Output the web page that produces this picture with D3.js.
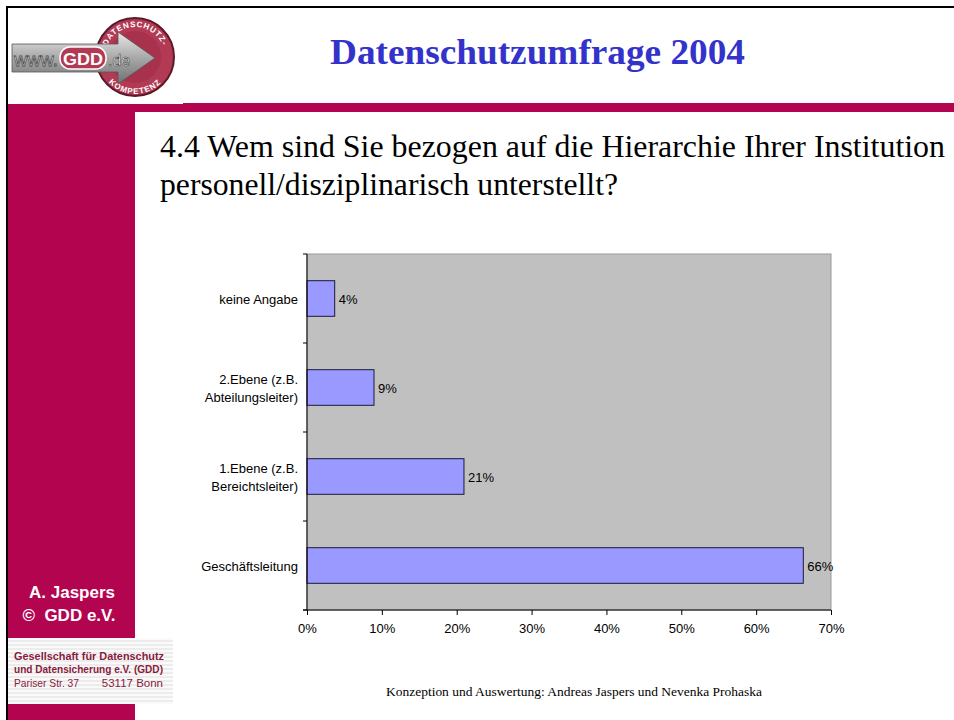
<!DOCTYPE html>
<html><head><meta charset="utf-8">
<script src="https://cdn.jsdelivr.net/npm/d3@7/dist/d3.min.js"></script>
<style>
html,body{margin:0;padding:0;background:#fff;}
svg{display:block;}
</style></head>
<body>
<svg id="chart" width="954" height="720"></svg>
<script>
const categories = ["keine Angabe", "2.Ebene (z.B.|Abteilungsleiter)", "1.Ebene (z.B.|Bereichtsleiter)", "Geschäftsleitung"];
const values = [0.037, 0.0895, 0.2097, 0.663];
const valueLabels = ["4%", "9%", "21%", "66%"];
const ticks = [0, 0.1, 0.2, 0.3, 0.4, 0.5, 0.6, 0.7];

const svg = d3.select("#chart");
const MAG = "#B2044F";
const SERIF = "'Liberation Serif', 'Times New Roman', serif";
const SANS = "'Liberation Sans', Arial, sans-serif";
const NARROW = "'Liberation Sans Narrow', 'Arial Narrow', 'Liberation Sans', sans-serif";

// slide frame
svg.append("rect").attr("x",0).attr("y",0).attr("width",954).attr("height",720).attr("fill","#fff");
svg.append("line").attr("x1",6).attr("x2",954).attr("y1",7).attr("y2",7).attr("stroke","#000").attr("stroke-width",2);
svg.append("line").attr("x1",7).attr("x2",7).attr("y1",6).attr("y2",720).attr("stroke","#000").attr("stroke-width",2);

// header band and sidebar
svg.append("rect").attr("x",8).attr("y",104).attr("width",175).attr("height",8).attr("fill",MAG);
svg.append("rect").attr("x",183).attr("y",103).attr("width",771).attr("height",9).attr("fill",MAG);
svg.append("rect").attr("x",8).attr("y",104).attr("width",127).attr("height",616).attr("fill",MAG);

// GDD address panel
const panel = svg.append("g");
panel.append("rect").attr("x",8).attr("y",638).attr("width",165).attr("height",66).attr("fill","#fafafa");
for (let y = 640; y < 704; y += 4) {
  panel.append("rect").attr("x",8).attr("y",y).attr("width",165).attr("height",2).attr("fill","#ececec");
}
panel.append("text").attr("x",14).attr("y",660).attr("font-family",NARROW)
  .attr("font-size",11.5).attr("font-weight","bold").attr("fill","#8a1a3c").attr("textLength",150).attr("lengthAdjust","spacingAndGlyphs").text("Gesellschaft für Datenschutz");
panel.append("text").attr("x",14).attr("y",673).attr("font-family",NARROW)
  .attr("font-size",11.5).attr("font-weight","bold").attr("fill","#8a1a3c").attr("textLength",149).attr("lengthAdjust","spacingAndGlyphs").text("und Datensicherung e.V. (GDD)");
panel.append("text").attr("x",14).attr("y",687).attr("font-family",NARROW)
  .attr("font-size",11.5).attr("fill","#8a1a3c").attr("textLength",65).attr("lengthAdjust","spacingAndGlyphs").text("Pariser Str. 37");
panel.append("text").attr("x",163).attr("y",687).attr("text-anchor","end").attr("font-family",NARROW)
  .attr("font-size",11.5).attr("fill","#8a1a3c").text("53117 Bonn");

// sidebar author
svg.append("text").attr("x",72).attr("y",598).attr("text-anchor","middle").attr("font-family",SANS)
  .attr("font-size",17).attr("font-weight","bold").attr("fill","#fff").text("A. Jaspers");
svg.append("text").attr("x",69).attr("y",621).attr("text-anchor","middle").attr("font-family",SANS)
  .attr("font-size",17).attr("font-weight","bold").attr("fill","#fff").attr("xml:space","preserve").text("©  GDD e.V.");

// logo
const logo = svg.append("g");
const defs = svg.append("defs");
const grad = defs.append("linearGradient").attr("id","arrowGrad").attr("x1",0).attr("y1",0).attr("x2",0).attr("y2",1);
grad.append("stop").attr("offset","0%").attr("stop-color","#e8e8e8");
grad.append("stop").attr("offset","50%").attr("stop-color","#a8a8a8");
grad.append("stop").attr("offset","100%").attr("stop-color","#707070");
logo.append("circle").attr("cx",135).attr("cy",57).attr("r",39).attr("fill","#B23A55").attr("stroke","#5a1a28").attr("stroke-width",2);
logo.append("circle").attr("cx",135).attr("cy",57).attr("r",26).attr("fill","#A8324D");
defs.append("path").attr("id","arcTop").attr("d","M 105 57 A 30 30 0 0 1 165 57");
defs.append("path").attr("id","arcBot").attr("d","M 99 58 A 36 36 0 0 0 171 58");
logo.append("text").attr("font-family",SANS).attr("font-size",8).attr("font-weight","bold").attr("fill","#fff").attr("letter-spacing",0.8)
  .append("textPath").attr("href","#arcTop").attr("startOffset","50%").attr("text-anchor","middle").text("DATENSCHUTZ-");
logo.append("text").attr("font-family",SANS).attr("font-size",8).attr("font-weight","bold").attr("fill","#fff").attr("letter-spacing",1)
  .append("textPath").attr("href","#arcBot").attr("startOffset","50%").attr("text-anchor","middle").text("KOMPETENZ");
logo.append("path").attr("d","M 12 44 L 118 44 L 118 32 L 155 58 L 118 84 L 118 72 L 12 72 Z")
  .attr("fill","url(#arrowGrad)").attr("stroke","#555").attr("stroke-width",0.8);
logo.append("text").attr("x",14).attr("y",66).attr("font-family",NARROW).attr("font-size",19)
  .attr("fill","#fff").attr("stroke","#444").attr("stroke-width",0.8).attr("textLength",44).attr("lengthAdjust","spacingAndGlyphs").text("www.");
logo.append("rect").attr("x",60).attr("y",47).attr("width",46).attr("height",22).attr("rx",10).attr("fill","#B23A55").attr("stroke","#fff").attr("stroke-width",1.5);
logo.append("text").attr("x",83).attr("y",65).attr("text-anchor","middle").attr("font-family",SANS).attr("font-size",17).attr("font-weight","bold")
  .attr("fill","#fff").attr("textLength",40).attr("lengthAdjust","spacingAndGlyphs").text("GDD");
logo.append("text").attr("x",108).attr("y",66).attr("font-family",SANS).attr("font-size",16)
  .attr("fill","#fff").attr("stroke","#444").attr("stroke-width",0.6).text(".de");

// title
svg.append("text").attr("x",330).attr("y",64).attr("font-family",SERIF)
  .attr("font-size",36).attr("font-weight","bold").attr("fill","#3333CC")
  .attr("textLength",415).attr("lengthAdjust","spacingAndGlyphs").text("Datenschutzumfrage 2004");

// question
svg.append("text").attr("x",160).attr("y",157).attr("font-family",SERIF)
  .attr("font-size",31).attr("fill","#000").attr("textLength",785).attr("lengthAdjust","spacingAndGlyphs")
  .text("4.4 Wem sind Sie bezogen auf die Hierarchie Ihrer Institution");
svg.append("text").attr("x",160).attr("y",195).attr("font-family",SERIF)
  .attr("font-size",31).attr("fill","#000").attr("textLength",458).attr("lengthAdjust","spacingAndGlyphs")
  .text("personell/disziplinarisch unterstellt?");

// chart
const plot = {left:307, right:831, top:254, bottom:610};
const x = d3.scaleLinear().domain([0,0.7]).range([plot.left, plot.right]);
const y = d3.scaleBand().domain(categories).range([plot.top, plot.bottom]).paddingInner(0.6).paddingOuter(0.3);

svg.append("rect").attr("x",plot.left).attr("y",plot.top).attr("width",plot.right-plot.left).attr("height",plot.bottom-plot.top)
  .attr("fill","#C0C0C0").attr("stroke","#999").attr("stroke-width",1);

svg.append("g").selectAll("rect").data(categories).join("rect")
  .attr("x", x(0)).attr("y", d => y(d)).attr("width", (d,i) => x(values[i]) - x(0)).attr("height", y.bandwidth())
  .attr("fill","#9999FF").attr("stroke","#1a1a3a").attr("stroke-width",1);

svg.append("g").selectAll("text").data(categories).join("text")
  .attr("x", (d,i) => x(values[i]) + 4).attr("y", d => y(d) + y.bandwidth()/2 + 5)
  .attr("font-family",SANS).attr("font-size",13).attr("fill","#000")
  .text((d,i) => valueLabels[i]);

// x axis
const xAxis = svg.append("g").attr("transform",`translate(0,${plot.bottom})`)
  .call(d3.axisBottom(x).tickValues(ticks).tickFormat(d3.format(".0%")).tickSize(5).tickPadding(9));
xAxis.select(".domain").attr("stroke","#000").attr("d",`M${plot.left - 4},0H${plot.right}`);
xAxis.selectAll(".tick line").attr("stroke","#000");
xAxis.selectAll("text").attr("font-family",SANS).attr("font-size",13).attr("fill","#000");

// y axis
const yg = svg.append("g");
yg.append("line").attr("x1",plot.left).attr("x2",plot.left).attr("y1",plot.top).attr("y2",plot.bottom).attr("stroke","#000");
const step = y.step();
const bounds = d3.range(categories.length + 1).map(i => y(categories[0]) - y.paddingOuter()*step + i*step);
yg.selectAll("line.tk").data(bounds).join("line").attr("class","tk")
  .attr("x1",plot.left-4).attr("x2",plot.left).attr("y1",d=>d).attr("y2",d=>d).attr("stroke","#000");

const labels = yg.selectAll("text").data(categories).join("text")
  .attr("text-anchor","end").attr("font-family",SANS).attr("font-size",13).attr("fill","#000");
labels.each(function(d){
  const parts = d.split("|");
  const t = d3.select(this);
  const cy = y(d) + y.bandwidth()/2;
  const startY = cy + 5 - (parts.length-1)*9;
  parts.forEach((p,i) => {
    t.append("tspan").attr("x", plot.left - 9).attr("y", startY + i*18).text(p);
  });
});

// footer
svg.append("text").attr("x",574).attr("y",696).attr("text-anchor","middle").attr("font-family",SERIF)
  .attr("font-size",13).attr("fill","#000").attr("textLength",376).attr("lengthAdjust","spacingAndGlyphs")
  .text("Konzeption und Auswertung: Andreas Jaspers und Nevenka Prohaska");
</script>
</body></html>
